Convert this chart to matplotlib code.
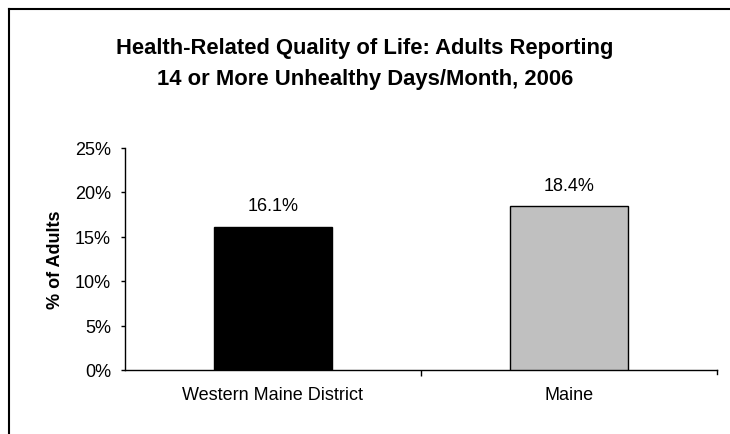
import matplotlib
matplotlib.use("Agg")
import matplotlib.pyplot as plt
from matplotlib.lines import Line2D

categories = ["Western Maine District", "Maine"]
values = [16.1, 18.4]
bar_colors = ["#000000", "#c0c0c0"]
yticks = [0, 5, 10, 15, 20, 25]
title = "Health-Related Quality of Life: Adults Reporting\n14 or More Unhealthy Days/Month, 2006"

plt.rcParams['font.family'] = ['Liberation Sans', 'DejaVu Sans']

W, H = 730, 435
fig = plt.figure(figsize=(W/100, H/100), dpi=100)
ax = fig.add_axes([125/W, 1-371/H, (717-125)/W, (371-148.5)/H])

x = list(range(len(categories)))
ax.bar(x, values, width=0.4, color=bar_colors, edgecolor="black", linewidth=1.0, zorder=3)
for xi, v in zip(x, values):
    ax.annotate(f"{v:.1f}%", (xi, v), xytext=(0, 9), textcoords="offset points",
                ha="center", va="bottom", fontsize=13)

ax.set_xlim(-0.5, len(categories)-0.5)
ax.set_ylim(0, 25)
ax.set_yticks(yticks)
ax.set_yticklabels([f"{t}%" for t in yticks], fontsize=13)
ax.set_xticks([0.5])
ax.set_xticklabels([""])
ax.tick_params(axis="x", direction="out", length=4, width=1)
ax.tick_params(axis="y", direction="out", length=3, width=1, pad=7)
for xi, c in zip(x, categories):
    ax.text(xi, -25/222.5, c, transform=ax.get_xaxis_transform(), ha="center", va="center", fontsize=13)
# right end tick
ax.plot([1.5, 1.5], [0, -4/222.5], transform=ax.get_xaxis_transform(), color="black", lw=1, clip_on=False)

ax.spines["top"].set_visible(False)
ax.spines["right"].set_visible(False)
ax.spines["left"].set_linewidth(1)
ax.spines["bottom"].set_linewidth(1)
ax.set_ylabel("% of Adults", fontsize=13, fontweight="bold")
ax.yaxis.set_label_coords(-70/592, 0.5)
ax.yaxis.label.set_verticalalignment("center")

fig.text(365/W, 1-64/H, title, ha="center", va="center", fontsize=15.8, fontweight="bold", linespacing=1.67)

fig.add_artist(Line2D([9/W, 1], [1-10/H, 1-10/H], color="black", lw=1.5, transform=fig.transFigure))
fig.add_artist(Line2D([9/W, 9/W], [0, 1-10/H], color="black", lw=1.5, transform=fig.transFigure))

fig.savefig("out.png", dpi=100)
